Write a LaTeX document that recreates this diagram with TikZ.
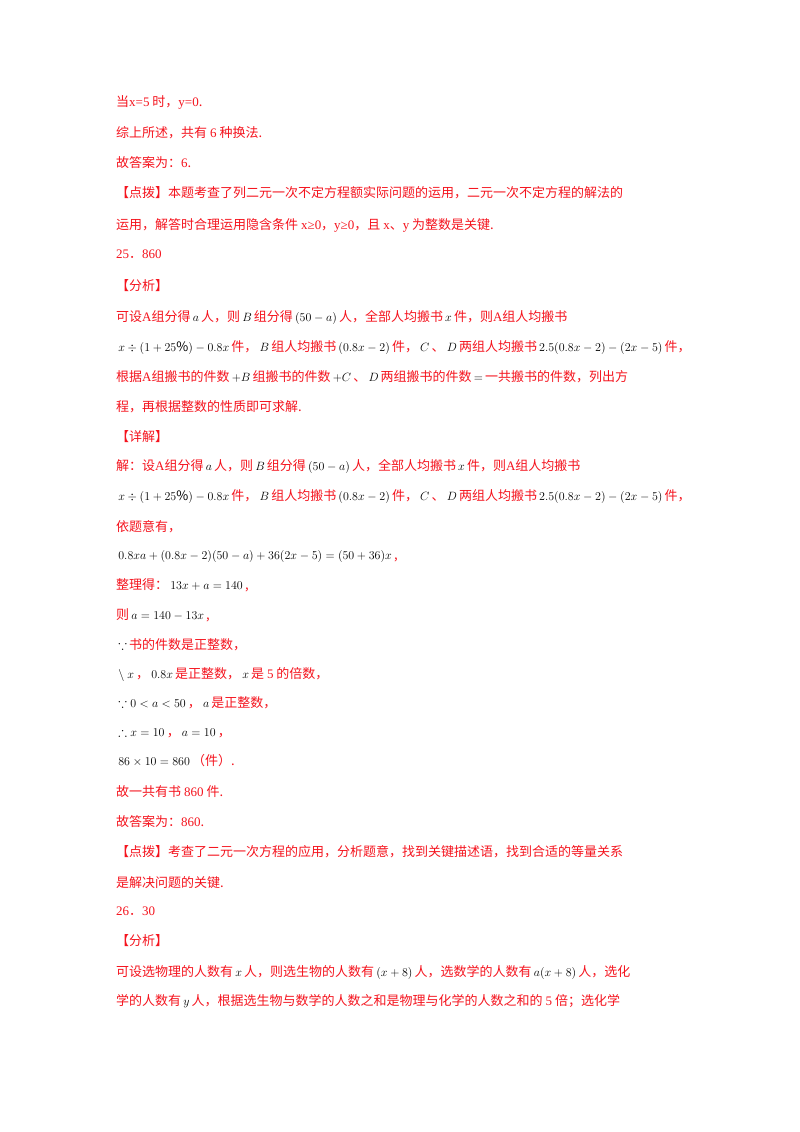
\documentclass[tikz,border=0pt]{standalone}
\usepackage{amssymb}
\usepackage{fontspec}
\setmainfont{Noto Sans CJK SC}
\newfontfamily\serif{Liberation Serif}
\definecolor{txtred}{RGB}{245,20,30}
\newcommand{\mm}[1]{\,\textcolor{black}{\fontsize{13}{15}\selectfont$#1$}\,}
\newcommand{\nn}[1]{{\serif #1}}
\tikzset{ln/.style={anchor=base west, inner sep=0pt, text=txtred, font=\fontsize{13}{16}\selectfont}}
\begin{document}
\begin{tikzpicture}[x=1pt,y=-1pt]
\useasboundingbox[fill=white] (0,0) rectangle (800,1132);
\node[ln] (l1) at (116,106) {当\nn{x=5} 时，\nn{y=0}.};
\node[ln] (l2) at (116,137) {综上所述，共有 \nn{6} 种换法.};
\node[ln] (l3) at (116,167) {故答案为：\nn{6}.};
\node[ln] (l4) at (116,197) {【点拨】本题考查了列二元一次不定方程额实际问题的运用，二元一次不定方程的解法的};
\node[ln] (l5) at (116,229) {运用，解答时合理运用隐含条件 \nn{x≥0}，\nn{y≥0}，且 \nn{x}、\nn{y} 为整数是关键.};
\node[ln] (l6) at (116,258) {\nn{25}．\nn{860}};
\node[ln] (l7) at (116,290) {【分析】};
\node[ln] (l8) at (116,321) {可设\nn{A}组分得\mm{a}人，则\mm{B}组分得\mm{(50-a)}人，全部人均搬书\mm{x}件，则\nn{A}组人均搬书};
\node[ln] (l9) at (116,351) {\mm{x\div(1+25\%)-0.8x}件，\mm{B}组人均搬书\mm{(0.8x-2)}件，\mm{C}、\mm{D}两组人均搬书\mm{2.5(0.8x-2)-(2x-5)}件，};
\node[ln] (l10) at (116,381) {根据\nn{A}组搬书的件数\mm{+B}组搬书的件数\mm{+C}、\mm{D}两组搬书的件数\mm{=}一共搬书的件数，列出方};
\node[ln] (l11) at (116,411) {程，再根据整数的性质即可求解.};
\node[ln] (l12) at (116,441) {【详解】};
\node[ln] (l13) at (116,470) {解：设\nn{A}组分得\mm{a}人，则\mm{B}组分得\mm{(50-a)}人，全部人均搬书\mm{x}件，则\nn{A}组人均搬书};
\node[ln] (l14) at (116,500) {\mm{x\div(1+25\%)-0.8x}件，\mm{B}组人均搬书\mm{(0.8x-2)}件，\mm{C}、\mm{D}两组人均搬书\mm{2.5(0.8x-2)-(2x-5)}件，};
\node[ln] (l15) at (116,531) {依题意有，};
\node[ln] (l16) at (116,559) {\mm{0.8xa+(0.8x-2)(50-a)+36(2x-5)=(50+36)x},};
\node[ln] (l17) at (116,589) {整理得：\mm{13x+a=140},};
\node[ln] (l18) at (116,619) {则\mm{a=140-13x},};
\node[ln] (l19) at (116,649) {\mm{\because}书的件数是正整数，};
\node[ln] (l20) at (116,678) {\mm{\backslash\ x}，\mm{0.8x}是正整数，\mm{x}是 \nn{5} 的倍数，};
\node[ln] (l21) at (116,707) {\mm{\because 0<a<50}，\mm{a}是正整数，};
\node[ln] (l22) at (116,736) {\mm{\therefore x=10}，\mm{a=10}，};
\node[ln] (l23) at (116,765) {\mm{86\times10=860}（件）.};
\node[ln] (l24) at (116,796) {故一共有书 \nn{860} 件.};
\node[ln] (l25) at (116,826) {故答案为：\nn{860}.};
\node[ln] (l26) at (116,856) {【点拨】考查了二元一次方程的应用，分析题意，找到关键描述语，找到合适的等量关系};
\node[ln] (l27) at (116,887) {是解决问题的关键.};
\node[ln] (l28) at (116,915) {\nn{26}．\nn{30}};
\node[ln] (l29) at (116,945) {【分析】};
\node[ln] (l30) at (116,976) {可设选物理的人数有\mm{x}人，则选生物的人数有\mm{(x+8)}人，选数学的人数有\mm{a(x+8)}人，选化};
\node[ln] (l31) at (116,1005) {学的人数有\mm{y}人，根据选生物与数学的人数之和是物理与化学的人数之和的 \nn{5} 倍；选化学};
\end{tikzpicture}
\end{document}
